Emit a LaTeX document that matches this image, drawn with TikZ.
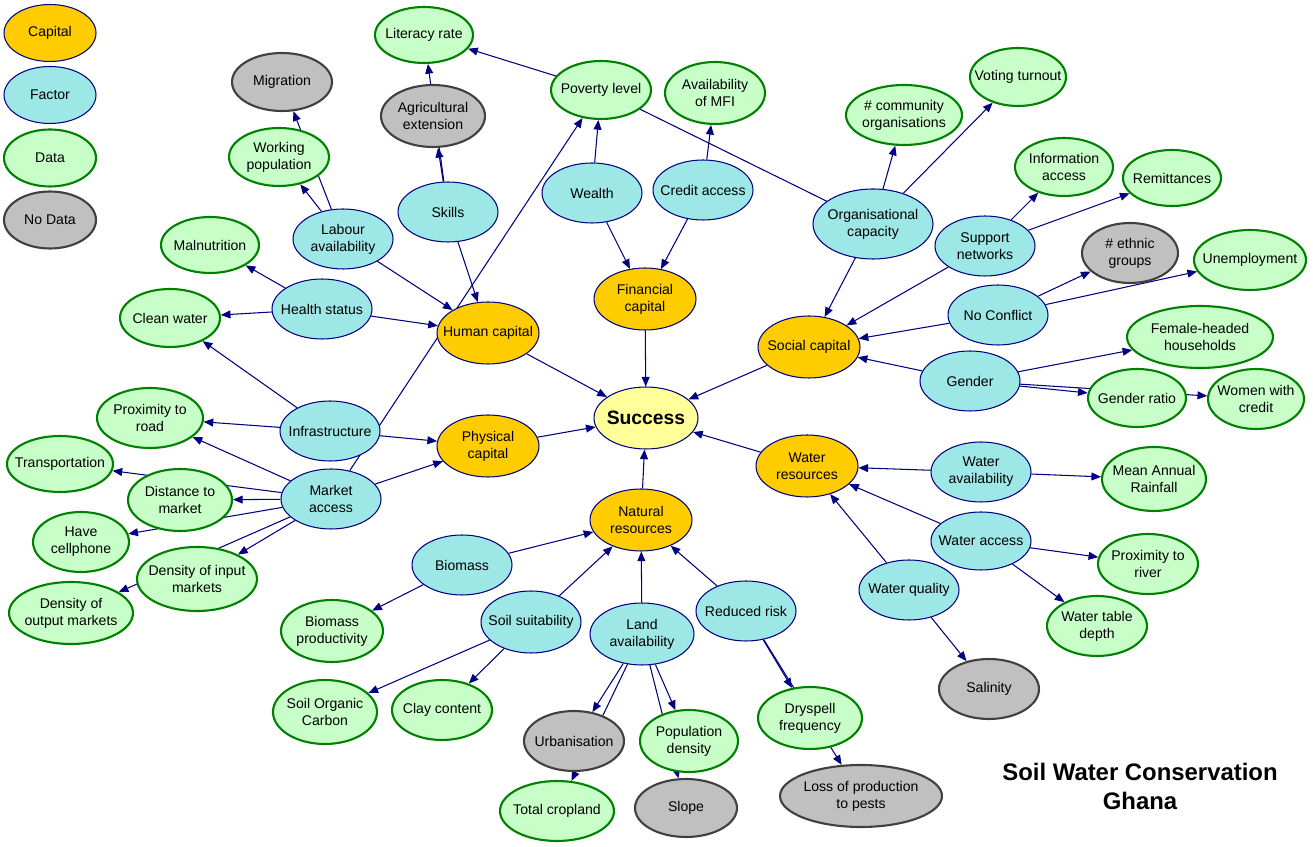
\documentclass[tikz,border=0pt]{standalone}
\usepackage{fontspec}
\setmainfont{Liberation Sans}
\usetikzlibrary{shapes.geometric,arrows.meta,backgrounds}
\definecolor{capitalfill}{HTML}{FFCC00}
\definecolor{factorfill}{HTML}{9EE7E7}
\definecolor{datafill}{HTML}{C8FFC8}
\definecolor{nodatafill}{HTML}{C0C0C0}
\definecolor{goalfill}{HTML}{FFFF99}
\definecolor{linenavy}{HTML}{000080}
\definecolor{datagreen}{HTML}{008000}
\definecolor{nodataedge}{HTML}{404040}
\begin{document}
\begin{tikzpicture}[x=0.02cm, y=-0.02cm]

        % 样式
        \tikzstyle{bubble} = [ellipse, minimum width=2cm, minimum height=1.2cm, inner sep=0pt, inner xsep=-6pt, align=center, font=\fontsize{8}{9.7}\selectfont]
        \tikzstyle{capital} = [bubble, fill=capitalfill, draw=linenavy, line width=0.6pt]
        \tikzstyle{factor} = [bubble, fill=factorfill, draw=linenavy, line width=0.6pt]
        \tikzstyle{hasdata} = [bubble, fill=datafill, draw=datagreen, line width=1.2pt]
        \tikzstyle{nodata} = [bubble, fill=nodatafill, draw=nodataedge, line width=1.2pt]
        \tikzstyle{goal} = [bubble, fill=goalfill, draw=linenavy, line width=0.6pt, font=\bfseries\fontsize{11}{13}\selectfont]
        \tikzstyle{arrow} = [draw=linenavy, line width=0.6pt, ->, >={Triangle[length=5.5pt,width=4.5pt]}]
        \tikzstyle{plainlink} = [draw=linenavy, line width=0.6pt]

        \useasboundingbox (0,0) rectangle (1313,847);

        % 图例
        \node (legcap) [capital, minimum width=1.84cm, minimum height=1.14cm] at (50,33) {Capital};
        \node (legfac) [factor, minimum width=1.84cm, minimum height=1.14cm] at (50,95) {Factor};
        \node (legdata) [hasdata, minimum width=1.84cm, minimum height=1.14cm] at (50,158) {Data};
        \node (legnodata) [nodata, minimum width=1.84cm, minimum height=1.14cm] at (50,220) {No Data};

        % 资本
        \node (success) [goal, minimum width=2.08cm, minimum height=1.24cm] at (646,418) {Success};
        \node (fin) [capital, minimum width=2.04cm, minimum height=1.24cm] at (645,299) {Financial\\capital};
        \node (human) [capital, minimum width=2.04cm, minimum height=1.24cm] at (488,333) {Human capital};
        \node (social) [capital, minimum width=2.04cm, minimum height=1.24cm] at (809,347) {Social capital};
        \node (phys) [capital, minimum width=2.04cm, minimum height=1.24cm] at (488,446) {Physical\\capital};
        \node (water) [capital, minimum width=2.04cm, minimum height=1.24cm] at (807,466) {Water\\resources};
        \node (natural) [capital, minimum width=2.04cm, minimum height=1.24cm] at (641,520) {Natural\\resources};

        % 因素
        \node (wealth) [factor] at (592,193) {Wealth};
        \node (credit) [factor] at (703,190) {Credit access};
        \node (orgcap) [factor, minimum width=2.4cm, minimum height=1.4cm] at (873,224) {Organisational\\capacity};
        \node (support) [factor] at (985,246) {Support\\networks};
        \node (noconf) [factor] at (998,315) {No Conflict};
        \node (gender) [factor] at (970,381) {Gender};
        \node (labour) [factor] at (343,239) {Labour\\availability};
        \node (skills) [factor] at (448,212) {Skills};
        \node (health) [factor] at (322,309) {Health status};
        \node (infra) [factor] at (330,431) {Infrastructure};
        \node (market) [factor] at (331,499) {Market\\access};
        \node (wateravail) [factor] at (981,472) {Water\\availability};
        \node (wateracc) [factor, minimum height=1.16cm] at (981,541) {Water access};
        \node (waterqual) [factor] at (909,590) {Water quality};
        \node (biomass) [factor] at (462,565) {Biomass};
        \node (soil) [factor, minimum height=1.24cm] at (531,622) {Soil suitability};
        \node (land) [factor, minimum width=2.08cm, minimum height=1.24cm] at (642,634) {Land\\availability};
        \node (risk) [factor] at (746,611) {Reduced risk};

        % 有数据
        \node (literacy) [hasdata, minimum width=1.96cm, minimum height=1.12cm] at (424,35) {Literacy rate};
        \node (poverty) [hasdata, minimum height=1.16cm] at (601,90) {Poverty level};
        \node (mfi) [hasdata, minimum height=1.24cm] at (715,93) {Availability\\of MFI};
        \node (voting) [hasdata, minimum width=1.92cm, minimum height=1.16cm] at (1018,77) {Voting turnout};
        \node (community) [hasdata, minimum width=2.32cm] at (904,115) {\# community\\organisations};
        \node (info) [hasdata, minimum width=1.96cm, minimum height=1.16cm] at (1064,167) {Information\\access};
        \node (remit) [hasdata, minimum width=1.96cm, minimum height=1.12cm] at (1172,178) {Remittances};
        \node (workpop) [hasdata, minimum height=1.16cm] at (279,157) {Working\\population};
        \node (malnut) [hasdata, minimum width=1.96cm, minimum height=1.12cm] at (210,245) {Malnutrition};
        \node (cleanw) [hasdata, minimum height=1.16cm] at (170,318) {Clean water};
        \node (unemp) [hasdata, minimum width=2.24cm] at (1250,260) {Unemployment};
        \node (female) [hasdata, minimum width=2.92cm, minimum height=1.24cm] at (1200,337) {Female-headed\\households};
        \node (gratio) [hasdata, minimum width=1.96cm, minimum height=1.16cm] at (1137,398) {Gender ratio};
        \node (women) [hasdata, minimum width=1.92cm] at (1256,399) {Women with\\credit};
        \node (road) [hasdata, minimum width=2.12cm] at (150,418) {Proximity to\\road};
        \node (rain) [hasdata, minimum width=2.08cm, minimum height=1.28cm] at (1154,479) {Mean Annual\\Rainfall};
        \node (transport) [hasdata, minimum width=2.12cm, minimum height=1.12cm] at (60,464) {Transportation};
        \node (distance) [hasdata, minimum width=2.08cm, minimum height=1.24cm] at (180,500) {Distance to\\market};
        \node (cell) [hasdata, minimum width=1.92cm] at (81,542) {Have\\cellphone};
        \node (inputm) [hasdata, minimum width=2.4cm, minimum height=1.28cm] at (197,579) {Density of input\\markets};
        \node (outputm) [hasdata, minimum width=2.48cm, minimum height=1.24cm] at (71,613) {Density of\\output markets};
        \node (river) [hasdata] at (1148,564) {Proximity to\\river};
        \node (tabled) [hasdata] at (1097,626) {Water table\\depth};
        \node (bioprod) [hasdata, minimum width=2.04cm, minimum height=1.24cm] at (332,631) {Biomass\\productivity};
        \node (carbon) [hasdata, minimum width=2.08cm, minimum height=1.28cm] at (325,712) {Soil Organic\\Carbon};
        \node (clay) [hasdata] at (442,710) {Clay content};
        \node (popd) [hasdata, minimum width=1.96cm, minimum height=1.24cm] at (689,741) {Population\\density};
        \node (dryspell) [hasdata, minimum width=2.08cm, minimum height=1.24cm] at (810,718) {Dryspell\\frequency};
        \node (cropland) [hasdata, minimum width=2.28cm] at (557,811) {Total cropland};

        % 无数据
        \node (migration) [nodata, minimum height=1.16cm] at (282,82) {Migration};
        \node (agext) [nodata, minimum width=2.08cm, minimum height=1.24cm] at (433,116) {Agricultural\\extension};
        \node (ethnic) [nodata, minimum width=1.92cm] at (1130,253) {\# ethnic\\groups};
        \node (salinity) [nodata] at (989,689) {Salinity};
        \node (urban) [nodata] at (574,741) {Urbanisation};
        \node (slope) [nodata, minimum width=2.04cm, minimum height=1.16cm] at (686,808) {Slope};
        \node (pests) [nodata, minimum width=3.24cm, minimum height=1.24cm] at (861,796) {Loss of production\\to pests};

        % 标题
        \node (title) [align=center, font=\bfseries\fontsize{13.6}{16.5}\selectfont] at (1140,786) {Soil Water Conservation\\Ghana};

        % 连接节点
        \begin{pgfonlayer}{background}
        \draw [arrow] (skills) -- (agext);
        \draw [arrow] (skills) -- (literacy);
        \draw [arrow] (poverty) -- (literacy);
        \draw [arrow] (labour) -- (workpop);
        \draw [arrow] (labour) -- (migration);
        \draw [arrow] (labour) -- (human);
        \draw [arrow] (skills) -- (human);
        \draw [arrow] (health) -- (malnut);
        \draw [arrow] (health) -- (cleanw);
        \draw [arrow] (health) -- (human);
        \draw [arrow] (infra) -- (cleanw);
        \draw [arrow] (infra) -- (road);
        \draw [arrow] (infra) -- (phys);
        \draw [arrow] (market) -- (poverty);
        \draw [arrow] (market) -- (road);
        \draw [arrow] (market) -- (transport);
        \draw [arrow] (market) -- (distance);
        \draw [arrow] (market) -- (cell);
        \draw [arrow] (market) -- (inputm);
        \draw [arrow] (market) -- (outputm);
        \draw [arrow] (market) -- (phys);
        \draw [arrow] (wealth) -- (poverty);
        \draw [arrow] (wealth) -- (fin);
        \draw [arrow] (credit) -- (mfi);
        \draw [arrow] (credit) -- (fin);
        \draw [plainlink] (poverty) -- (orgcap);
        \draw [arrow] (orgcap) -- (community);
        \draw [arrow] (orgcap) -- (voting);
        \draw [arrow] (orgcap) -- (social);
        \draw [arrow] (support) -- (info);
        \draw [arrow] (support) -- (remit);
        \draw [arrow] (support) -- (social);
        \draw [arrow] (noconf) -- (ethnic);
        \draw [arrow] (noconf) -- (unemp);
        \draw [arrow] (noconf) -- (social);
        \draw [arrow] (gender) -- (female);
        \draw [arrow] (gender) -- (gratio);
        \draw [arrow] (gender) -- (women);
        \draw [arrow] (gender) -- (social);
        \draw [arrow] (fin) -- (success);
        \draw [arrow] (human) -- (success);
        \draw [arrow] (social) -- (success);
        \draw [arrow] (phys) -- (success);
        \draw [arrow] (water) -- (success);
        \draw [arrow] (natural) -- (success);
        \draw [arrow] (wateravail) -- (water);
        \draw [arrow] (wateravail) -- (rain);
        \draw [arrow] (wateracc) -- (water);
        \draw [arrow] (wateracc) -- (river);
        \draw [arrow] (wateracc) -- (tabled);
        \draw [arrow] (waterqual) -- (water);
        \draw [arrow] (waterqual) -- (salinity);
        \draw [arrow] (biomass) -- (natural);
        \draw [arrow] (biomass) -- (bioprod);
        \draw [arrow] (soil) -- (natural);
        \draw [arrow] (soil) -- (carbon);
        \draw [arrow] (soil) -- (clay);
        \draw [arrow] (land) -- (natural);
        \draw [arrow] (land) -- (urban);
        \draw [arrow] (land) -- (cropland);
        \draw [arrow] (land) -- (popd);
        \draw [arrow] (land) -- (slope);
        \draw [arrow] (risk) -- (natural);
        \draw [arrow] (risk) -- (dryspell);
        \draw [arrow] (risk) -- (pests);
        \end{pgfonlayer}

    \end{tikzpicture}
\end{document}
